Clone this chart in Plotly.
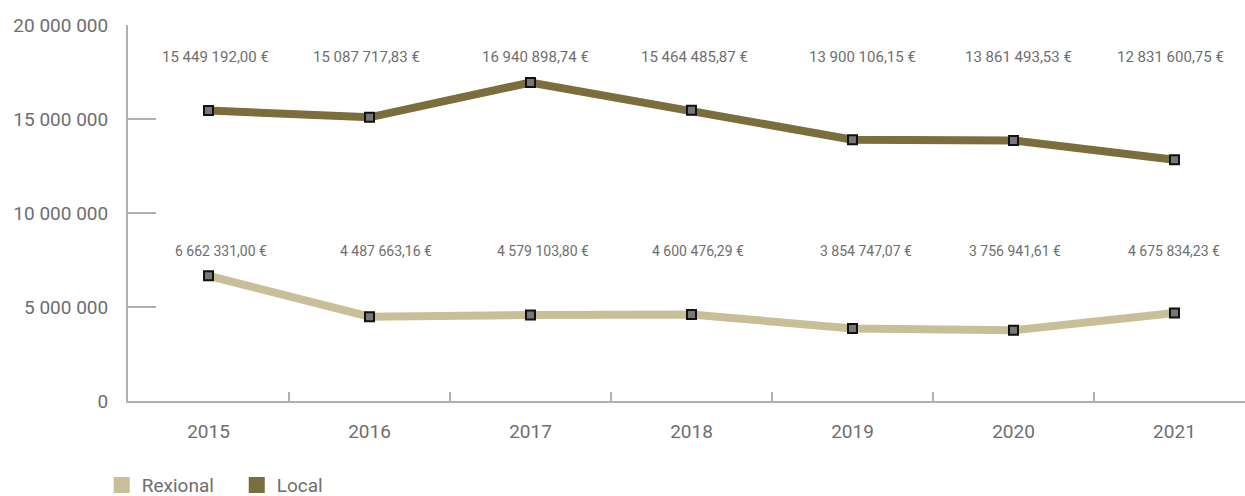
import plotly.graph_objects as go

years = ["2015", "2016", "2017", "2018", "2019", "2020", "2021"]
local = [15449192.00, 15087717.83, 16940898.74, 15464485.87, 13900106.15, 13861493.53, 12831600.75]
rexional = [6662331.00, 4487663.16, 4579103.80, 4600476.29, 3854747.07, 3756941.61, 4675834.23]
y_ticks = [0, 5000000, 10000000, 15000000, 20000000]

# small horizontal nudges (px) for the value labels
local_label_nudge = [7, -3, 5, 3, 10, 5, -4]
rexional_label_nudge = [12, 16, 13, 7, 14, 2, 0]

LOCAL_COLOR = "#7b6d3c"
REXIONAL_COLOR = "#c8bf99"
TEXT_COLOR = "#6e6e6e"
AXIS_COLOR = "#b0b0b0"
FONT = "Roboto"


def euro(v):
    whole, frac = f"{v:,.2f}".split(".")
    return whole.replace(",", " ") + "," + frac + " €"


fig = go.Figure()

for name, values, color in [("Rexional", rexional, REXIONAL_COLOR), ("Local", local, LOCAL_COLOR)]:
    fig.add_trace(go.Scatter(
        x=years, y=values, mode="lines+markers", name=name, showlegend=False,
        line=dict(color=color, width=8),
        marker=dict(symbol="square", size=9, color="#777777", line=dict(color="#111111", width=2)),
        cliponaxis=False,
    ))

# legend entries drawn as plain squares
for name, color in [("Rexional", REXIONAL_COLOR), ("Local", LOCAL_COLOR)]:
    fig.add_trace(go.Scatter(
        x=[None], y=[None], mode="markers", name=name,
        marker=dict(symbol="square", size=16, color=color),
    ))

# value labels above each series (x given as category index)
for i, (v, dx) in enumerate(zip(local, local_label_nudge)):
    fig.add_annotation(x=i, y=0.9136, yref="paper", yanchor="middle", xshift=dx,
                       text=euro(v), showarrow=False,
                       font=dict(family=FONT, size=15, color=TEXT_COLOR))
for i, (v, dx) in enumerate(zip(rexional, rexional_label_nudge)):
    fig.add_annotation(x=i, y=0.400, yref="paper", yanchor="middle", xshift=dx,
                       text=euro(v), showarrow=False,
                       font=dict(family=FONT, size=14, color=TEXT_COLOR))

fig.update_layout(
    width=1245, height=496,
    margin=dict(l=128, r=0, t=25, b=95, autoexpand=False),
    paper_bgcolor="white", plot_bgcolor="white",
    separators=", ",
    font=dict(family=FONT, color=TEXT_COLOR),
    legend=dict(
        orientation="h", x=-0.0235, xanchor="left", y=-0.173, yanchor="top",
        font=dict(family=FONT, size=19, color=TEXT_COLOR),
        entrywidth=90, entrywidthmode="pixels", itemwidth=30,
    ),
    xaxis=dict(
        type="category", range=[-0.5, 6.438],
        showline=True, linecolor=AXIS_COLOR, linewidth=2,
        ticks="inside", tickson="boundaries", ticklen=9, tickcolor=AXIS_COLOR, tickwidth=2,
        showgrid=False, zeroline=False,
        tickfont=dict(family=FONT, size=19, color=TEXT_COLOR),
        ticklabelstandoff=12,
    ),
    yaxis=dict(
        range=[0, 20000000], tickvals=y_ticks, tickformat=",d",
        showline=True, linecolor=AXIS_COLOR, linewidth=2,
        ticks="inside", ticklen=28, tickcolor=AXIS_COLOR, tickwidth=2,
        showgrid=False, zeroline=False,
        tickfont=dict(family=FONT, size=19, color=TEXT_COLOR),
        ticklabelstandoff=14,
    ),
)

fig.write_html("out.html")
